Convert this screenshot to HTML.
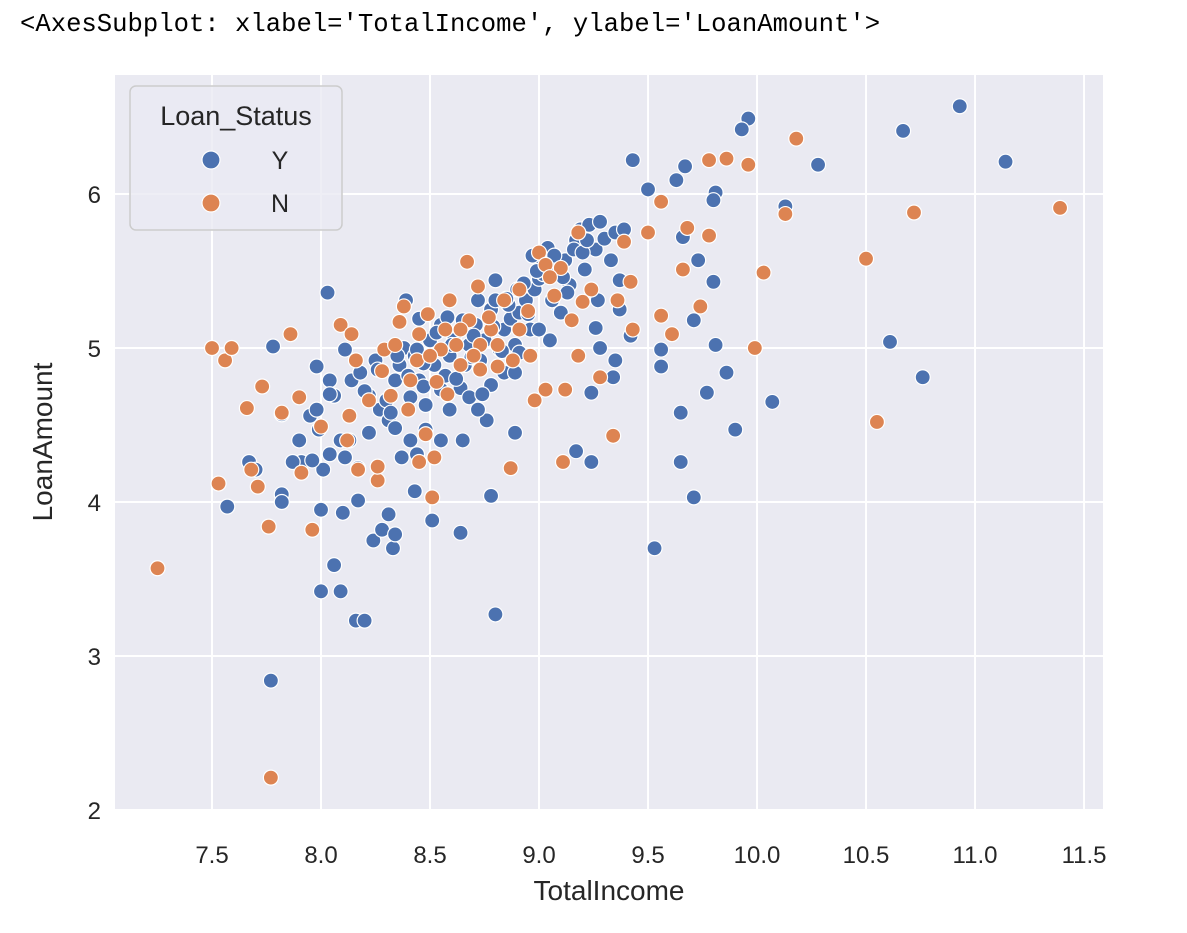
<!DOCTYPE html>
<html><head><meta charset="utf-8">
<style>
body{margin:0;background:#fff;width:1187px;height:933px;overflow:hidden;font-family:"Liberation Sans",sans-serif;}
#hdr{position:absolute;left:20px;top:10px;font-family:"Liberation Mono",monospace;font-size:25.6px;color:#000;}
svg{position:absolute;left:0;top:0;}
</style></head><body>
<div id="hdr">&lt;AxesSubplot: xlabel='TotalIncome', ylabel='LoanAmount'&gt;</div>
<svg id="chart" width="1187" height="933"></svg>
<script>
const xTicks=[7.5,8.0,8.5,9.0,9.5,10.0,10.5,11.0,11.5];
const xTickLabels=["7.5","8.0","8.5","9.0","9.5","10.0","10.5","11.0","11.5"];
const yTicks=[2,3,4,5,6];
const yTickLabels=["2","3","4","5","6"];
const seriesNames=["Y","N"];
const yesX=[8.11,8.14,8.18,8.22,8.25,8.27,8.31,8.34,8.36,8.38,8.41,8.43,8.45,8.48,8.50,8.52,8.55,8.57,8.59,8.61,8.64,8.66,8.68,8.71,8.73,8.75,8.78,8.80,8.82,8.84,8.87,8.89,8.91,8.94,8.96,8.98,9.00,9.01,9.04,9.06,9.08,9.10,9.12,9.14,9.17,9.19,9.21,9.23,9.26,9.28,9.30,9.33,9.35,9.37,9.39,9.42,9.37,9.27,9.26,9.28,9.00,8.91,8.84,8.78,8.68,8.59,8.48,8.41,8.34,8.22,8.13,8.11,8.17,8.37,8.44,8.55,8.65,8.39,8.45,8.55,8.65,8.72,8.80,8.90,8.97,8.89,9.05,7.90,7.95,7.99,8.06,8.09,7.91,8.04,
9.96,10.93,11.14,10.67,10.28,10.13,9.43,9.93,9.67,9.63,9.50,9.81,9.80,9.66,10.61,10.76,10.07,9.90,9.86,9.81,9.77,9.80,9.73,9.71,9.56,9.56,9.65,9.65,9.71,9.53,9.35,9.34,9.24,9.24,9.17,8.03,7.78,7.77,7.57,7.67,7.70,7.82,7.82,8.00,8.00,8.09,8.06,8.16,8.20,8.10,8.17,8.24,8.31,8.28,8.33,8.34,8.43,8.51,8.64,8.78,8.80,8.89,8.76,8.72,8.01,7.96,7.87,7.82,7.98,7.98,8.04,8.04,
8.20,8.26,8.30,8.35,8.40,8.44,8.47,8.53,8.58,8.62,8.70,8.74,8.79,8.83,8.86,8.93,8.95,9.02,9.07,9.13,9.16,9.20,8.32,8.47,8.60,8.69,8.85,8.99,9.11,9.22];
const yesY=[4.99,4.79,4.84,4.69,4.92,4.60,4.53,4.79,4.89,5.00,4.68,4.95,4.79,4.63,5.05,4.89,4.73,4.82,4.95,5.05,4.74,4.89,5.02,5.15,4.92,5.05,5.25,5.31,4.99,5.12,5.19,5.02,5.23,5.31,5.12,5.38,5.45,5.56,5.65,5.31,5.51,5.23,5.57,5.41,5.70,5.77,5.51,5.80,5.64,5.82,5.71,5.57,5.75,5.44,5.77,5.08,5.25,5.31,5.13,5.00,5.12,4.97,4.84,4.76,4.68,4.60,4.47,4.40,4.48,4.45,4.40,4.29,4.22,4.29,4.31,4.40,4.40,5.31,5.19,5.15,5.18,5.31,5.44,5.38,5.60,4.84,5.05,4.40,4.56,4.47,4.69,4.40,4.26,4.31,
6.49,6.57,6.21,6.41,6.19,5.92,6.22,6.42,6.18,6.09,6.03,6.01,5.96,5.72,5.04,4.81,4.65,4.47,4.84,5.02,4.71,5.43,5.57,5.18,4.99,4.88,4.58,4.26,4.03,3.70,4.92,4.81,4.71,4.26,4.33,5.36,5.01,2.84,3.97,4.26,4.21,4.05,4.00,3.95,3.42,3.42,3.59,3.23,3.23,3.93,4.01,3.75,3.92,3.82,3.70,3.79,4.07,3.88,3.80,4.04,3.27,4.45,4.53,4.60,4.21,4.27,4.26,4.57,4.60,4.88,4.79,4.70,
4.72,4.86,4.66,4.95,4.82,4.99,4.75,5.10,5.20,4.80,5.08,4.70,5.14,4.98,5.28,5.42,5.22,5.48,5.60,5.36,5.64,5.62,4.58,4.90,5.02,4.94,5.32,5.50,5.46,5.70];
const noX=[7.25,7.77,7.50,7.56,7.59,7.53,7.66,7.73,7.86,7.76,7.71,7.68,7.82,7.90,7.91,7.96,8.00,8.09,8.14,8.16,8.13,8.12,8.17,8.26,8.26,8.29,8.36,8.38,8.45,8.49,8.48,8.45,8.52,8.51,8.59,8.67,8.72,8.68,8.78,8.81,8.87,8.91,8.96,9.00,9.03,9.10,9.12,9.11,9.18,9.18,9.24,9.28,9.34,9.36,9.39,9.42,9.43,9.50,9.56,9.56,9.61,9.66,9.68,9.74,9.78,9.78,9.86,9.96,10.03,9.99,10.13,10.18,10.50,10.55,10.72,11.39,9.03,8.98,8.64,8.57,8.41,8.34,8.73,8.84,8.91,8.73,8.64,8.22,8.32,8.55,9.07,9.15,
8.28,8.44,8.53,8.62,8.70,8.77,8.88,8.95,9.05,8.40,8.58,8.81,9.20,8.50];
const noY=[3.57,2.21,5.00,4.92,5.00,4.12,4.61,4.75,5.09,3.84,4.10,4.21,4.58,4.68,4.19,3.82,4.49,5.15,5.09,4.92,4.56,4.40,4.21,4.14,4.23,4.99,5.17,5.27,5.09,5.22,4.44,4.26,4.29,4.03,5.31,5.56,5.40,5.18,5.12,5.02,4.22,5.38,4.95,5.62,5.54,5.52,4.73,4.26,5.75,4.95,5.38,4.81,4.43,5.31,5.69,5.43,5.12,5.75,5.95,5.21,5.09,5.51,5.78,5.27,5.73,6.22,6.23,6.19,5.49,5.00,5.87,6.36,5.58,4.52,5.88,5.91,4.73,4.66,4.89,5.12,4.79,5.02,4.86,5.31,5.12,5.02,5.12,4.66,4.69,4.99,5.34,5.18,
4.85,4.92,4.78,5.02,4.95,5.20,4.92,5.24,5.46,4.60,4.70,4.88,5.30,4.95];

const NS='http://www.w3.org/2000/svg';
const svg=document.getElementById('chart');
const L=115,R=1103,T=75,B=810;
const xMin=7.055,xMax=11.587,yMin=2,yMax=6.773;
function sx(v){return L+(v-xMin)/(xMax-xMin)*(R-L);}
function sy(v){return B-(v-yMin)/(yMax-yMin)*(B-T);}
function mk(tag,attrs,parent){const e=document.createElementNS(NS,tag);for(const k in attrs)e.setAttribute(k,attrs[k]);(parent||svg).appendChild(e);return e;}

const bg=mk('rect',{x:L,y:T,width:R-L,height:B-T,fill:'#eaeaf2'});



xTicks.forEach((v,i)=>{
  const g=mk('line',{x1:sx(v),x2:sx(v),y1:T,y2:B,stroke:'#fff','stroke-width':2});
  
  
  const t=mk('text',{x:sx(v),y:863,'text-anchor':'middle','font-size':24,fill:'#262626'});
  t.textContent=xTickLabels[i];
  
  
});
yTicks.forEach((v,i)=>{
  const g=mk('line',{x1:L,x2:R,y1:sy(v),y2:sy(v),stroke:'#fff','stroke-width':2});
  
  
  const t=mk('text',{x:101,y:sy(v)+9,'text-anchor':'end','font-size':24,fill:'#262626'});
  t.textContent=yTickLabels[i];
  
  
});

function drawSeries(xs,ys,color,name){
  for(let i=0;i<xs.length;i++){
    const c=mk('circle',{cx:sx(xs[i]),cy:sy(ys[i]),r:7.5,fill:color,stroke:'#fff','stroke-width':1.2});
    
    
  }
}
drawSeries(yesX,yesY,'#4c72b0','point-y');
drawSeries(noX,noY,'#dd8452','point-n');

const xt=mk('text',{x:(L+R)/2,y:900,'text-anchor':'middle','font-size':28,fill:'#262626'});
xt.textContent='TotalIncome';


const yt=mk('text',{x:0,y:0,'text-anchor':'middle','font-size':28,fill:'#262626',transform:'translate(52,442) rotate(-90)'});
yt.textContent='LoanAmount';



const lg=mk('g',{});


mk('rect',{x:130,y:86,width:212,height:144,rx:6,fill:'#eaeaf2','fill-opacity':0.8,stroke:'#cccccc','stroke-width':1.5},lg);
const lt=mk('text',{x:236,y:125,'text-anchor':'middle','font-size':27,fill:'#262626'},lg);
lt.textContent='Loan_Status';


const colors=['#4c72b0','#dd8452'];
seriesNames.forEach((n,i)=>{
  const yy=160+i*43;
  const c=mk('circle',{cx:211,cy:yy,r:9,fill:colors[i],stroke:'#fff','stroke-width':1.2},lg);
  
  
  const t=mk('text',{x:280,y:yy+9,'text-anchor':'middle','font-size':25,fill:'#262626'},lg);
  t.textContent=n;
  
  
});
</script>
</body></html>
